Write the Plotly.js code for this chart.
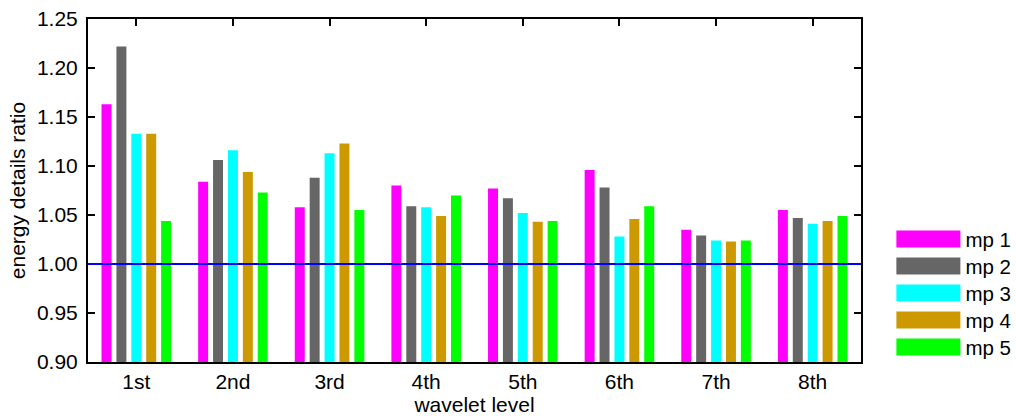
<!DOCTYPE html>
<html>
<head>
<meta charset="utf-8">
<script src="https://cdn.plot.ly/plotly-3.0.1.min.js"></script>
<style>
  html, body { margin: 0; padding: 0; background: #ffffff; }
  #chart { width: 1016px; height: 416px; }
</style>
</head>
<body>
<div id="chart"></div>
<script>
// Wavelet levels on the x axis
const levels = ['1st', '2nd', '3rd', '4th', '5th', '6th', '7th', '8th'];

// Energy details ratio per measuring point
const mp1 = [1.163, 1.084, 1.058, 1.080, 1.077, 1.096, 1.035, 1.055];
const mp2 = [1.222, 1.106, 1.088, 1.059, 1.067, 1.078, 1.029, 1.047];
const mp3 = [1.133, 1.116, 1.113, 1.058, 1.052, 1.028, 1.024, 1.041];
const mp4 = [1.133, 1.094, 1.123, 1.049, 1.043, 1.046, 1.023, 1.044];
const mp5 = [1.044, 1.073, 1.055, 1.070, 1.044, 1.059, 1.024, 1.049];

const seriesNames = ['mp 1', 'mp 2', 'mp 3', 'mp 4', 'mp 5'];
const seriesValues = [mp1, mp2, mp3, mp4, mp5];
const seriesColors = ['#ff00ff', '#666666', '#00ffff', '#cc9900', '#00ff00'];

// Unit ratio reference line
const referenceRatio = 1.0;

const yTicks = [0.90, 0.95, 1.00, 1.05, 1.10, 1.15, 1.20, 1.25];

const FONT = 'Liberation Sans, Arial, Helvetica, sans-serif';

const traces = seriesNames.map((name, i) => ({
  type: 'bar',
  name: name,
  x: levels,
  y: seriesValues[i],
  base: 0,
  legendgroup: name,
  marker: { color: seriesColors[i], line: { width: 0 } },
  hoverinfo: 'x+y+name'
}));

const layout = {
  width: 1016,
  height: 416,
  margin: { l: 88, r: 155, t: 19, b: 54, autoexpand: false },
  paper_bgcolor: '#ffffff',
  plot_bgcolor: '#ffffff',
  font: { family: FONT, color: '#000000', size: 21 },
  barmode: 'group',
  bargap: 0.229,
  bargroupgap: 0.33,
  showlegend: true,
  legend: {
    x: 1.0393, xanchor: 'left',
    y: 0.4125, yanchor: 'top',
    font: { family: FONT, size: 20.5, color: '#000000' },
    itemwidth: 64,
    tracegroupgap: 0,
    traceorder: 'normal',
    bgcolor: 'rgba(0,0,0,0)',
    borderwidth: 0
  },
  xaxis: {
    type: 'category',
    range: [-0.5, 7.5],
    showline: true, linecolor: '#000000', linewidth: 2,
    mirror: 'ticks',
    ticks: 'inside', ticklen: 7, tickwidth: 2, tickcolor: '#000000',
    showgrid: false, zeroline: false,
    layer: 'below traces',
    tickfont: { family: FONT, size: 21, color: '#000000' },
    ticklabelstandoff: 0,
    title: { text: 'wavelet level', font: { family: FONT, size: 21, color: '#000000' }, standoff: 7 }
  },
  yaxis: {
    range: [0.9, 1.25],
    tickvals: yTicks,
    tickformat: '.2f',
    showline: true, linecolor: '#000000', linewidth: 2,
    mirror: 'ticks',
    ticks: 'inside', ticklen: 7, tickwidth: 2, tickcolor: '#000000',
    showgrid: false, zeroline: false,
    layer: 'below traces',
    tickfont: { family: FONT, size: 21, color: '#000000' },
    ticklabelstandoff: 4,
    title: { text: 'energy details ratio', font: { family: FONT, size: 21, color: '#000000' }, standoff: 6 }
  },
  shapes: [{
    type: 'line', xref: 'paper', yref: 'y',
    x0: 0, x1: 1, y0: referenceRatio, y1: referenceRatio,
    line: { color: '#0000ff', width: 2 },
    layer: 'above'
  }]
};

// legend row layout: first swatch centre and row pitch, in pixels
const LEGEND_FIRST_ROW = 239;
const LEGEND_ROW_PITCH = 27;

Plotly.newPlot('chart', traces, layout, { displayModeBar: false, staticPlot: true }).then(gd => {
  // widen the legend swatches into long rectangles
  gd.querySelectorAll('.legend .legendpoints path').forEach(p => {
    p.setAttribute('d', 'M32,8.5H-32V-8.5H32Z');
  });
  // tighten the legend rows to a fixed pitch
  const items = gd.querySelectorAll('.legend .traces');
  items.forEach((item, i) => {
    const sw = item.querySelector('.legendpoints path');
    if (!sw) return;
    const r = sw.getBoundingClientRect();
    const centre = r.top + r.height / 2;
    const want = LEGEND_FIRST_ROW + LEGEND_ROW_PITCH * i;
    const m = /translate\(\s*([-\d.]+)[ ,]+([-\d.]+)\s*\)/.exec(item.getAttribute('transform') || '');
    if (!m) return;
    const tx = parseFloat(m[1]);
    const ty = parseFloat(m[2]) + (want - centre);
    item.setAttribute('transform', 'translate(' + tx + ',' + ty + ')');
  });
});
</script>
</body>
</html>
